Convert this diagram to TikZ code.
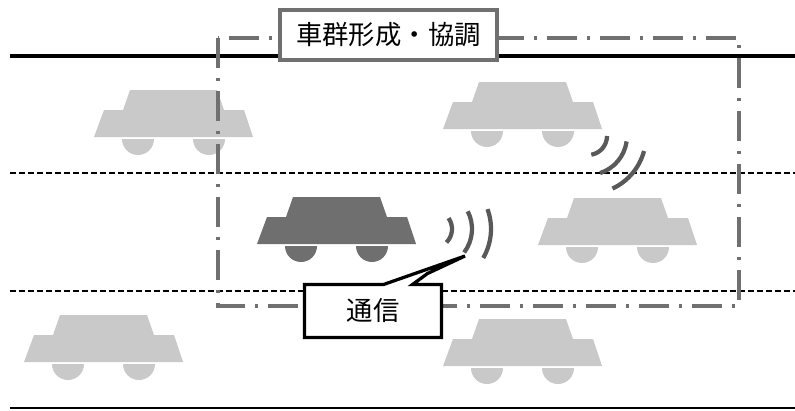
\documentclass[tikz,border=0pt]{standalone}
\usepackage{fontspec}
\newfontfamily\jpfont{Noto Sans CJK JP}
\usetikzlibrary{calc}

\definecolor{carlight}{HTML}{C9C9C9}
\definecolor{cardark}{HTML}{6F6F6F}
\definecolor{framegray}{HTML}{707070}
\definecolor{wavegray}{HTML}{595959}

\begin{document}
\begin{tikzpicture}[x=0.02cm,y=0.02cm,
    roadedge/.style={line width=0.065cm},
    laneline/.style={line width=0.04cm,dash pattern=on 0.12cm off 0.06cm},
    platoon/.style={framegray,line width=0.075cm,dash pattern=on 0.6cm off 0.2cm on 0.06cm off 0.2cm},
    wave/.style={wavegray,line width=0.085cm},
    titlebox/.style={draw=framegray,line width=0.08cm,fill=white,minimum width=4.34cm,minimum height=1.0cm,inner sep=0pt,font=\jpfont\fontsize{15}{18}\selectfont},
    callbox/.style={fill=white,minimum width=2.74cm,minimum height=1.06cm,inner sep=0pt,outer sep=0pt,font=\jpfont\fontsize{15}{18}\selectfont},
    callline/.style={line width=0.065cm,line join=miter},
    pics/car/.style={code={
        \fill[#1] (0,0) -- (10,27) -- (29,27) -- (36,47) -- (123,47) -- (130,27) -- (150,27) -- (159,0) -- cycle;
        \fill[#1] (28,-2) arc[start angle=180,end angle=360,radius=16] -- cycle;
        \fill[#1] (99,-2) arc[start angle=180,end angle=360,radius=16] -- cycle;
    }},
    pics/waves/.style={code={
        \foreach \r/\a in {19/40,39/32,58/25}
            \draw[wave] (-\a:\r) arc[start angle=-\a,end angle=\a,radius=\r];
    }}]
    \useasboundingbox (0,0) rectangle (795,410);

    \draw[roadedge] (10,354) -- (795,354);
    \draw[laneline] (10,237) -- (795,237);
    \draw[laneline] (10,119) -- (795,119);
    \draw[roadedge,line width=0.05cm] (10,2) -- (795,2);

    \pic at (94,273) {car=carlight};
    \pic at (443,281) {car=carlight};
    \pic at (257,166) {car=cardark};
    \pic at (538,165) {car=carlight};
    \pic at (24,48) {car=carlight};
    \pic at (443,44) {car=carlight};

    \draw[platoon] (218,372) rectangle (739,104);
    \node[titlebox] (title) at (388.5,375) {車群形成・協調};

    \pic[rotate=-5] at (433,181) {waves};
    \pic[rotate=-40] at (588,274) {waves};

    \node[callbox] (comm) at (373,99) {通信};
    \coordinate (tip) at (465,154);
    \draw[callline] (comm.north west) -- ($(comm.north west)+(79,0)$) -- (tip)
        -- ($(comm.north west)+(123,11)$) -- ($(comm.north west)+(108,0)$)
        -- (comm.north east) -- (comm.south east) -- (comm.south west) -- cycle;
\end{tikzpicture}
\end{document}
